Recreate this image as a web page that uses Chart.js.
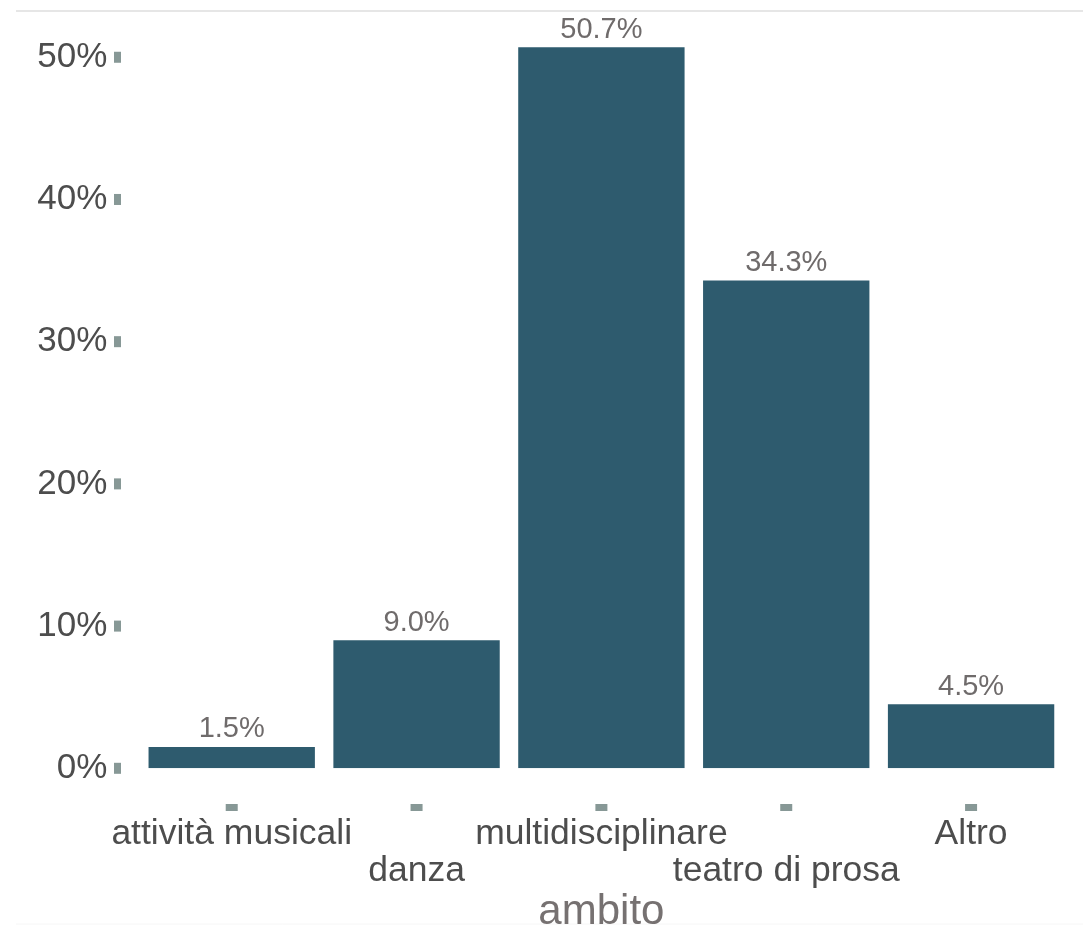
<!DOCTYPE html>
<html>
<head>
<meta charset="utf-8">
<script src="https://cdn.jsdelivr.net/npm/chart.js@4.4.1/dist/chart.umd.min.js"></script>
<style>
  html, body { margin: 0; padding: 0; background: #ffffff; }
  #wrap { width: 1083px; height: 925px; position: relative; }
</style>
</head>
<body>
<div id="wrap"><canvas id="chart"></canvas></div>
<script>
// dati
var categorie = ['attività musicali', 'danza', 'multidisciplinare', 'teatro di prosa', 'Altro'];
var percentuali = [1.5, 9.0, 50.7, 34.3, 4.5];
var tick_y = [0, 10, 20, 30, 40, 50];

var colore_barra = '#2e5b6e';
var colore_tick = '#879896';
var font_famiglia = "'Liberation Sans', Arial, Helvetica, sans-serif";

// etichette sfalsate su due righe
var etichette = categorie.map(function(c, i) {
	return (i % 2 === 0) ? [c] : ['', c];
});

function $each(arr, fn) {
	for (var i = 0; i < arr.length; i++) fn(arr[i], i);
}

var pluginDecorazioni = {
	id: 'decorazioni',
	beforeDraw: function(chart) {
		var ctx = chart.ctx;
		ctx.save();
		ctx.strokeStyle = '#dedede';
		ctx.lineWidth = 1.5;
		ctx.beginPath();
		ctx.moveTo(16, 11);
		ctx.lineTo(chart.width, 11);
		ctx.stroke();
		ctx.strokeStyle = '#f6f6f6';
		ctx.lineWidth = 1;
		ctx.beginPath();
		ctx.moveTo(16, 924);
		ctx.lineTo(chart.width, 924);
		ctx.stroke();
		ctx.restore();
	},
	afterDraw: function(chart) {
		var ctx = chart.ctx;
		var sy = chart.scales.y;
		var sx = chart.scales.x;
		ctx.save();
		ctx.fillStyle = colore_tick;
		// tacche asse y
		$each(tick_y, function(v) {
			var py = sy.getPixelForValue(v);
			ctx.fillRect(114, py - 5.5, 7, 11);
		});
		// tacche asse x
		$each(categorie, function(c, i) {
			var px = sx.getPixelForValue(i);
			ctx.fillRect(px - 6, 804, 12, 7);
		});
		// etichette valori
		var meta = chart.getDatasetMeta(0);
		ctx.fillStyle = '#6f6b6b';
		ctx.font = '29px ' + font_famiglia;
		ctx.textAlign = 'center';
		ctx.textBaseline = 'alphabetic';
		$each(meta.data, function(bar, i) {
			ctx.fillText(percentuali[i].toFixed(1) + '%', bar.x, bar.y - 9.5);
		});
		ctx.restore();
	}
};

var ctxBar = document.getElementById('chart').getContext('2d');
var myChart = new Chart(ctxBar, {
	type: 'bar',
	data: {
		labels: etichette,
		datasets: [{
			data: percentuali,
			backgroundColor: colore_barra,
			borderWidth: 0,
			barPercentage: 0.9,
			categoryPercentage: 1.0
		}]
	},
	options: {
		responsive: true,
		maintainAspectRatio: false,
		animation: false,
		layout: {
			padding: { top: 14.6, right: 19.5, bottom: 0, left: 0 }
		},
		plugins: {
			legend: { display: false },
			tooltip: { enabled: false }
		},
		scales: {
			x: {
				grid: { display: false },
				border: { display: false },
				ticks: {
					color: '#4d4d4d',
					font: { family: font_famiglia, size: 35.5, lineHeight: 1.03 },
					padding: 40,
					maxRotation: 0,
					autoSkip: false
				},
				title: {
					display: true,
					text: 'ambito',
					color: '#767171',
					font: { family: font_famiglia, size: 42, lineHeight: 0.6 },
					padding: 0
				},
				afterFit: function(s) { s.height = 925 - 768.3; }
			},
			y: {
				min: 0,
				max: 53,
				grid: { display: false, drawTicks: true, tickLength: 32 },
				border: { display: false },
				ticks: {
					stepSize: 10,
					includeBounds: false,
					color: '#4d4d4d',
					font: { family: font_famiglia, size: 35, lineHeight: 0.8 },
					padding: 0,
					callback: function(v) { return v + '%'; }
				},
				afterFit: function(s) { s.width = 139.3; }
			}
		}
	},
	plugins: [pluginDecorazioni]
});
</script>
</body>
</html>
